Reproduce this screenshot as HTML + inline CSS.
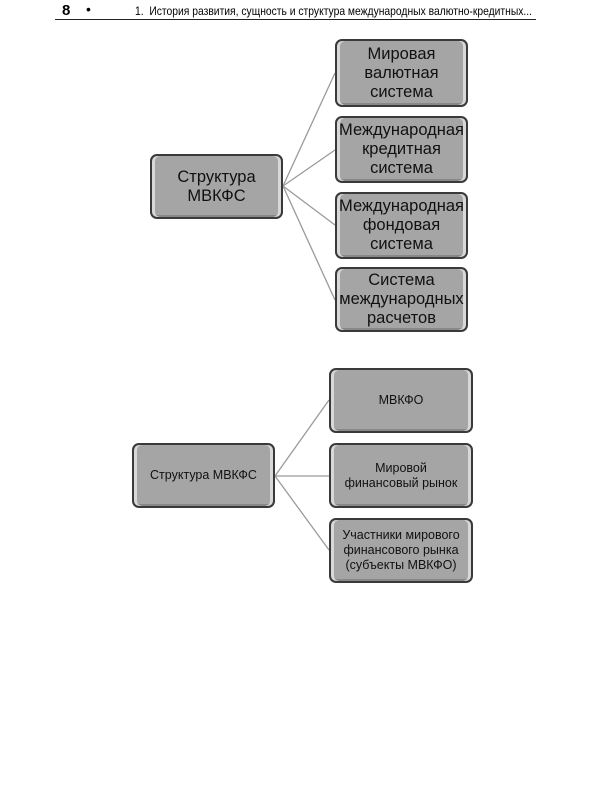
<!DOCTYPE html>
<html><head><meta charset="utf-8"><style>
body{margin:0;width:600px;height:800px;background:#fff;position:relative;font-family:"Liberation Sans","DejaVu Sans",sans-serif;overflow:hidden}
.b{position:absolute;box-sizing:border-box;background:#a5a5a5;border:2px solid #3a3a3a;border-radius:7px;display:flex;align-items:center;justify-content:center;text-align:center;color:#111;box-shadow:inset 3px 0 0 #d8d8d8,inset -3px 0 0 #d8d8d8,inset 0 -2px 0 #888}
.t{font-size:16.5px;line-height:19px}
.s{font-size:12.5px;line-height:15px}
</style></head><body>
<div style="position:absolute;left:62px;top:2px;font-size:15px;font-weight:bold">8</div>
<div style="position:absolute;left:86px;top:1px;font-size:14px">•</div>
<div style="position:absolute;left:135px;top:4px;font-size:12px;transform:scaleX(0.86);transform-origin:left;white-space:nowrap">1.&nbsp; История развития, сущность и структура международных валютно-кредитных...</div>
<div style="position:absolute;left:55px;top:19px;width:481px;height:1px;background:#222"></div>
<svg style="position:absolute;left:0;top:0" width="600" height="800">
<g stroke="#9a9a9a" stroke-width="1.3" fill="none">
<line x1="283" y1="186" x2="335" y2="73"/><line x1="283" y1="186" x2="335" y2="150"/><line x1="283" y1="186" x2="335" y2="225"/><line x1="283" y1="186" x2="335" y2="300"/>
<line x1="275" y1="476" x2="329" y2="400"/><line x1="275" y1="476" x2="329" y2="476"/><line x1="275" y1="476" x2="329" y2="550"/>
</g></svg>
<div class="b t" style="left:150px;top:154px;width:133px;height:65px">Структура<br>МВКФС</div>
<div class="b t" style="left:335px;top:39px;width:133px;height:68px">Мировая<br>валютная<br>система</div>
<div class="b t" style="left:335px;top:116px;width:133px;height:67px">Международная<br>кредитная<br>система</div>
<div class="b t" style="left:335px;top:192px;width:133px;height:67px">Международная<br>фондовая<br>система</div>
<div class="b t" style="left:335px;top:267px;width:133px;height:65px">Система<br>международных<br>расчетов</div>
<div class="b s" style="left:132px;top:443px;width:143px;height:65px">Структура МВКФС</div>
<div class="b s" style="left:329px;top:368px;width:144px;height:65px">МВКФО</div>
<div class="b s" style="left:329px;top:443px;width:144px;height:65px">Мировой<br>финансовый рынок</div>
<div class="b s" style="left:329px;top:518px;width:144px;height:65px">Участники мирового<br>финансового рынка<br>(субъекты МВКФО)</div>
</body></html>
